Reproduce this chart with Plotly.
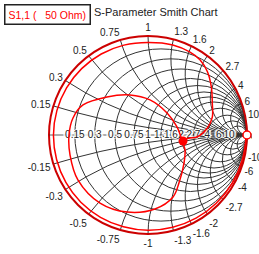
import numpy as np
import plotly.graph_objects as go

# S11 trace (magnitude, phase in degrees)
s11_mag = [0.995, 0.985, 0.98, 0.975, 0.97, 0.965, 0.962, 0.96, 0.96, 0.96, 0.958, 0.956, 0.955,
           0.953, 0.95, 0.948, 0.945, 0.94, 0.935, 0.944, 0.939, 0.924, 0.877, 0.803, 0.724,
           0.674, 0.604, 0.495, 0.421, 0.359,
           0.404, 0.461, 0.577, 0.675, 0.750, 0.806, 0.841, 0.841, 0.813, 0.798, 0.777,
           0.723, 0.565, 0.443, 0.355, 0.294, 0.304, 0.334, 0.359]
s11_ang = [0, -15, -30, -45, -60, -75, -90, -105, -120, -135, -150, -165, -180,
           165, 150, 135, 120, 105, 90, 74.6, 63.4, 55.4, 46.8, 37.2, 26.2,
           15.5, 6.7, -2.3, -4.1, -9.8,
           -22.1, -37.9, -57.2, -68.0, -84.6, -105.2, -125.2, -147.2, -165.6, -180, 167.2,
           155.2, 137.2, 114.2, 86.8, 49.1, 15.5, -3.4, -9.8]

start_mag, start_ang = [0.9998], [0.0]
marker_mag, marker_ang = [0.359], [-9.8]

real_ticks = [0.15, 0.3, 0.5, 0.75, 1, 1.3, 1.6, 2, 2.7, 4, 6, 10]
real_labels = ["0.15", "0.3", "0.5", "0.75", "1", "1.3", "1.6", "2", "2.7", "4", "6", "10"]
imag_ticks = [-10, -6, -4, -2.7, -2, -1.6, -1.3, -1, -0.75, -0.5, -0.3, -0.15,
              0.15, 0.3, 0.5, 0.75, 1, 1.3, 1.6, 2, 2.7, 4, 6, 10]
imag_labels = ["-10", "-6", "-4", "-2.7", "-2", "-1.6", "-1.3", "-1", "-0.75", "-0.5", "-0.3", "-0.15",
               "0.15", "0.3", "0.5", "0.75", "1", "1.3", "1.6", "2", "2.7", "4", "6", "10"]


def to_z(mag, ang):
    g = np.array(mag) * np.exp(1j * np.deg2rad(np.array(ang)))
    z = (1 + g) / (1 - g)
    return z.real, z.imag


zr, zi = to_z(s11_mag, s11_ang)
sr, si = to_z(start_mag, start_ang)
mr, mi = to_z(marker_mag, marker_ang)

# map plotly's default label text (unicode minus) to plain hyphen labels
alias = {}
for v, lab in zip(imag_ticks, imag_labels):
    if v < 0:
        alias["\u2212" + lab[1:]] = lab

halo = "1px 0 0 white, -1px 0 0 white, 0 1px 0 white, 0 -1px 0 white, 2px 0 0 white, -2px 0 0 white"

fig = go.Figure()
fig.add_trace(go.Scattersmith(real=real_ticks, imag=[0] * len(real_ticks), mode="text",
                              text=real_labels, textposition="middle center",
                              textfont=dict(family="Liberation Sans", size=10, color="#222", shadow=halo),
                              showlegend=False, hoverinfo="skip"))
fig.add_trace(go.Scattersmith(real=zr, imag=zi, mode="lines",
                              line=dict(color="#ff0000", width=1.5, shape="spline"),
                              showlegend=False, hoverinfo="skip"))
fig.add_trace(go.Scattersmith(real=mr, imag=mi, mode="markers",
                              marker=dict(color="#ff0000", size=9),
                              showlegend=False, hoverinfo="skip"))
fig.add_trace(go.Scattersmith(real=sr, imag=si, mode="markers",
                              marker=dict(color="white", size=8, line=dict(color="#ff0000", width=1.5)),
                              showlegend=False, hoverinfo="skip", cliponaxis=False))

W, H = 259, 254
fig.update_layout(
    width=W, height=H, margin=dict(l=0, r=0, t=0, b=0),
    paper_bgcolor="white", plot_bgcolor="white",
    font=dict(family="Liberation Sans", size=10, color="#222"),
    smith=dict(
        domain=dict(x=[49 / W, 247 / W], y=[1 - 234 / H, 1 - 36 / H]),
        bgcolor="white",
        realaxis=dict(tickvals=real_ticks, gridcolor="#333", gridwidth=0.8,
                      linecolor="#333", linewidth=0.8, ticks="", showticklabels=False,
                      layer="below traces"),
        imaginaryaxis=dict(tickvals=imag_ticks, gridcolor="#333", gridwidth=0.8,
                           linecolor="#cc0000", linewidth=2, ticks="", labelalias=alias,
                           layer="below traces", tickfont=dict(size=10, color="#222")),
    ),
    # white patch hiding the automatic infinity label that the reference chart does not show
    shapes=[dict(type="rect", xref="paper", yref="paper", x0=251.8 / W, x1=1.0,
                 y0=1 - 141 / H, y1=1 - 129 / H, fillcolor="white", line=dict(width=0),
                 layer="above")],
)
fig.add_annotation(x=4 / W, y=1 - 4 / H, xref="paper", yref="paper", xanchor="left", yanchor="top",
                   text="S1,1 (\u00a0\u00a0\u00a050 Ohm)", showarrow=False,
                   font=dict(family="Liberation Sans", size=10.5, color="#ff0000"),
                   bordercolor="#222", borderwidth=1.5, borderpad=3, bgcolor="white")
fig.add_annotation(x=92 / W, y=1 - 12 / H, xref="paper", yref="paper", xanchor="left", yanchor="middle",
                   text="S-Parameter Smith Chart", showarrow=False,
                   font=dict(family="Liberation Sans", size=11, color="#222"))
fig.write_html("out.html")
